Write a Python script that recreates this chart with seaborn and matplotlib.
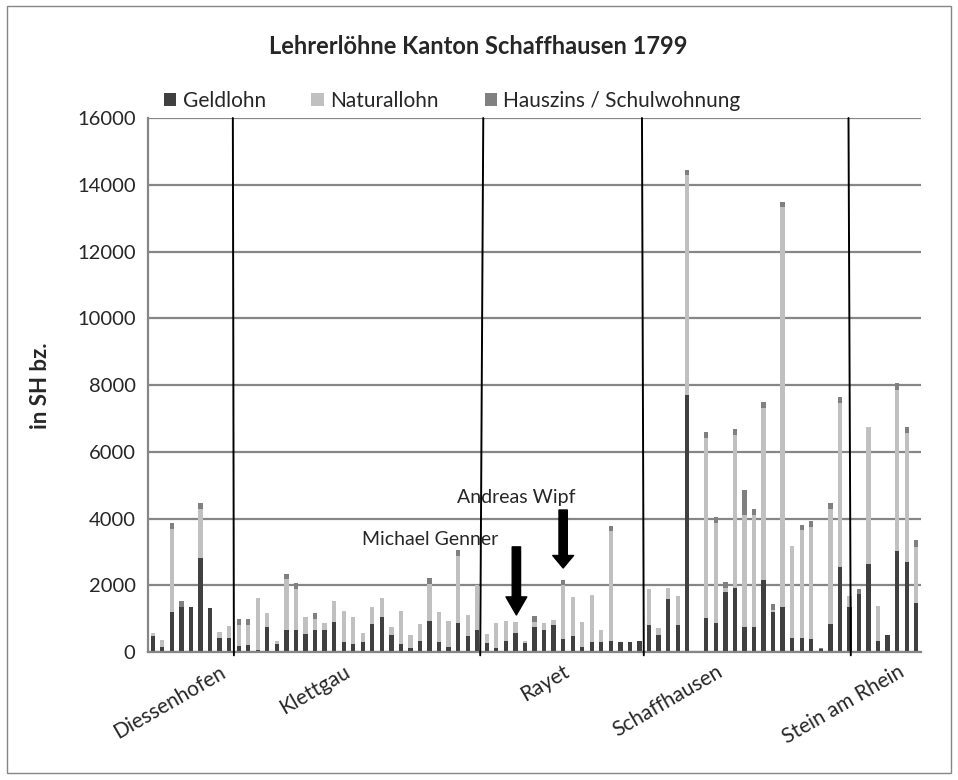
"""
Lehrerloehne Kanton Schaffhausen 1799 - stacked bars per teacher
(Geldlohn / Naturallohn / Hauszins), grouped by district.
"""

import numpy as np
import pandas as pd
import matplotlib
matplotlib.use("Agg")
import matplotlib.pyplot as plt
import seaborn as sns
from matplotlib.patches import Patch, Rectangle

# =============================================================================
# 1. DATA (values in SH bz., one entry per school / teacher)
# =============================================================================
geldlohn = [
    470, 160, 1190, 1340, 1360, 2810, 1330, 430, 410, 190,
    200, 50, 760, 240, 670, 670, 550, 650, 650, 900,
    310, 230, 310, 840, 1040, 520, 250, 120, 340, 920,
    300, 150, 880, 480, 650, 280, 120, 330, 580, 280,
    750, 650, 820, 380, 480, 150, 300, 300, 330, 300,
    300, 320, 820, 520, 1580, 820, 7710, 0, 1030, 880,
    1790, 1930, 750, 750, 2160, 1190, 1360, 420, 420, 400,
    80, 850, 2560, 1360, 1730, 2650, 320, 520, 3040, 2700,
    1460,
]
naturallohn = [
    110, 200, 2500, 0, 0, 1460, 0, 180, 370, 620,
    620, 1580, 420, 100, 1510, 1210, 500, 350, 220, 640,
    920, 830, 260, 500, 590, 230, 980, 380, 510, 1130,
    900, 770, 2010, 630, 1360, 270, 750, 600, 310, 60,
    150, 220, 130, 1630, 1180, 740, 1410, 360, 3290, 0,
    0, 0, 1070, 200, 330, 870, 6570, 0, 5380, 2980,
    120, 4580, 3360, 3360, 5160, 60, 11960, 2770, 3250, 3340,
    0, 3440, 4910, 330, 0, 4100, 1070, 0, 4820, 3850,
    1700,
]
hauszins = [
    0, 0, 180, 190, 0, 180, 0, 0, 0, 190,
    180, 0, 0, 0, 170, 180, 0, 180, 0, 0,
    0, 0, 0, 0, 0, 0, 0, 0, 0, 180,
    0, 0, 180, 0, 0, 0, 0, 0, 0, 0,
    170, 0, 0, 160, 0, 0, 0, 0, 170, 0,
    0, 0, 0, 0, 0, 0, 170, 0, 170, 180,
    180, 170, 750, 180, 170, 190, 150, 0, 150, 180,
    40, 160, 170, 0, 160, 0, 0, 0, 200, 180,
    200,
]

# districts and the bar (1-based) that carries the district name
regionen = ["Diessenhofen", "Klettgau", "Rayet", "Schaffhausen", "Stein am Rhein"]
region_label_bar = [8, 21, 44, 60, 79]

serien = ["Geldlohn", "Naturallohn", "Hauszins / Schulwohnung"]
farben = ["#404040", "#c0c0c0", "#808080"]

df = pd.DataFrame({
    "nr": np.arange(len(geldlohn)),
    "geld": geldlohn,
    "natur": naturallohn,
    "haus": hauszins,
})
df["geld_natur"] = df["geld"] + df["natur"]
df["total"] = df["geld_natur"] + df["haus"]

# =============================================================================
# 2. PLOT
# =============================================================================
sns.set_style("white")
plt.rcParams["font.family"] = ["Lato", "DejaVu Sans"]

fig = plt.figure(figsize=(9.58, 7.8), dpi=100)
ax = fig.add_axes([0.1545, 0.1641, 0.8069, 0.6846])

# stacked look: draw cumulative totals back to front
bar_kws = dict(x="nr", width=0.45, saturation=1, linewidth=0, errorbar=None, ax=ax)
sns.barplot(data=df, y="total", color=farben[2], **bar_kws)
sns.barplot(data=df, y="geld_natur", color=farben[1], **bar_kws)
sns.barplot(data=df, y="geld", color=farben[0], **bar_kws)

ax.set_xlim(-0.5, len(df) - 0.5)
ax.set_ylim(0, 16000)
ax.set_yticks(np.arange(0, 16001, 2000))
ax.yaxis.grid(True, color="#868686", linewidth=1.6)
ax.set_axisbelow(True)
ax.set_xlabel("")
ax.set_ylabel("")

for side in ["top", "right"]:
    ax.spines[side].set_visible(False)
for side in ["left", "bottom"]:
    ax.spines[side].set_color("#868686")
    ax.spines[side].set_linewidth(1.6)

ax.tick_params(axis="y", labelsize=14.5, length=6, width=1.2, color="#868686", pad=3)

# category ticks at the bar boundaries, names only at one bar per district
ax.set_xticks(np.arange(-0.5, len(df), 1), minor=True)
ax.set_xticks([b - 1 for b in region_label_bar])
ax.set_xticklabels(regionen, rotation=30, ha="right", rotation_mode="anchor", fontsize=15)
ax.tick_params(axis="x", which="major", length=0, pad=7)
ax.tick_params(axis="x", which="minor", length=6, width=1, color="#868686")

# district separators (hand drawn in the original)
for x0, x1 in [(8.39, 8.50), (34.63, 34.31), (51.26, 51.45), (72.90, 73.14)]:
    ax.plot([x0, x1], [16000, -100], color="black", linewidth=1.4, zorder=5, clip_on=False)

# annotations for two teachers
arrow_genner = dict(arrowstyle="simple,head_length=13,head_width=15,tail_width=6",
                    color="black", mutation_scale=1, shrinkA=0, shrinkB=0)
arrow_wipf = dict(arrowstyle="simple,head_length=9,head_width=15,tail_width=6",
                  color="black", mutation_scale=1, shrinkA=0, shrinkB=0)
ax.annotate("", xy=(38.1, 1110), xytext=(38.1, 3150), arrowprops=arrow_genner, zorder=6)
ax.annotate("", xy=(43, 2517), xytext=(43, 4255), arrowprops=arrow_wipf, zorder=6)
ax.text(21.9, 3356, "Michael Genner", fontsize=14, va="center", ha="left")
ax.text(31.85, 4644, "Andreas Wipf", fontsize=14, va="center", ha="left")

# titles and legend
fig.text(0.499, 0.94, "Lehrerlöhne Kanton Schaffhausen 1799",
         ha="center", va="center", fontsize=17, fontweight="bold")
fig.text(0.042, 0.506, "in SH bz.", rotation=90, ha="center", va="center",
         fontsize=16, fontweight="bold")

handles = [Patch(facecolor=c, edgecolor="none") for c in farben]
fig.legend(handles, serien, loc="center", bbox_to_anchor=(0.472, 0.871), ncol=3,
           frameon=False, fontsize=15, handlelength=0.6, handleheight=0.6,
           handletextpad=0.3, columnspacing=2.2)

# chart area border
fig.patches.append(Rectangle((0.007, 0.009), 0.986, 0.983, transform=fig.transFigure,
                             fill=False, edgecolor="#868686", linewidth=1))

fig.savefig("out.png", dpi=100)
